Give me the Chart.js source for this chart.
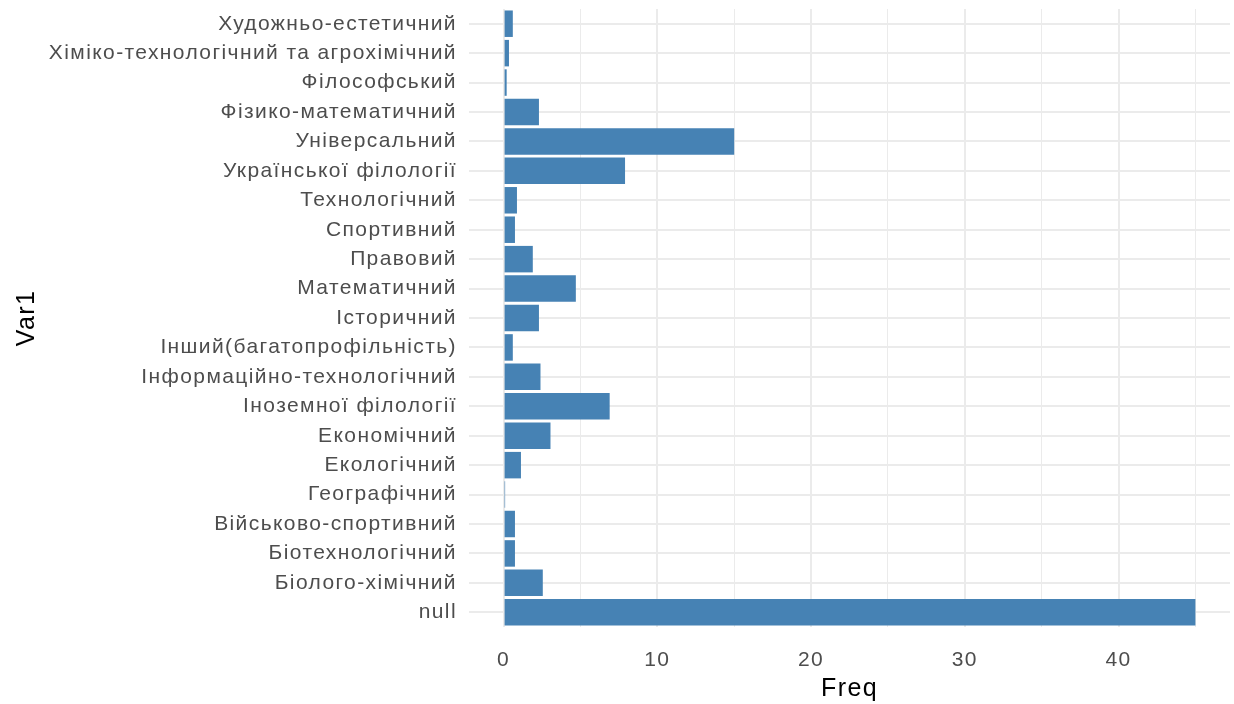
<!DOCTYPE html>
<html>
<head>
<meta charset="utf-8">
<script src="https://cdn.jsdelivr.net/npm/chart.js@4"></script>
<style>
  html, body { margin: 0; padding: 0; background: #ffffff; }
  #wrap { width: 1234px; height: 704px; position: relative; }
</style>
</head>
<body>
<div id="wrap"><canvas id="c"></canvas></div>
<script>
const categories = [
  "Художньо-естетичний",
  "Хіміко-технологічний та агрохімічний",
  "Філософський",
  "Фізико-математичний",
  "Універсальний",
  "Української філології",
  "Технологічний",
  "Спортивний",
  "Правовий",
  "Математичний",
  "Історичний",
  "Інший(багатопрофільність)",
  "Інформаційно-технологічний",
  "Іноземної філології",
  "Економічний",
  "Екологічний",
  "Географічний",
  "Військово-спортивний",
  "Біотехнологічний",
  "Біолого-хімічний",
  "null"
];
const freq = [0.6, 0.35, 0.2, 2.3, 15.0, 7.9, 0.87, 0.74, 1.9, 4.7, 2.3, 0.6, 2.4, 6.9, 3.05, 1.13, 0.1, 0.74, 0.74, 2.55, 45.0];
const xTickValues = [0, 5, 10, 15, 20, 25, 30, 35, 40, 45];
const xMajorTicks = [0, 10, 20, 30, 40];
const xTitle = "Freq";
const yTitle = "Var1";

const FONT = "'Liberation Sans', Arial, sans-serif";
const LS = '1.4px';

const spacingPlugin = {
  id: 'letterSpacing',
  beforeUpdate(chart) { chart.ctx.letterSpacing = LS; },
  beforeLayout(chart) { chart.ctx.letterSpacing = LS; },
  beforeDraw(chart) { chart.ctx.letterSpacing = LS; }
};

new Chart(document.getElementById('c'), {
  type: 'bar',
  plugins: [spacingPlugin],
  data: {
    labels: categories,
    datasets: [{
      data: freq,
      backgroundColor: '#4682B4',
      borderWidth: 0,
      categoryPercentage: 1.0,
      barPercentage: 0.9
    }]
  },
  options: {
    indexAxis: 'y',
    responsive: true,
    maintainAspectRatio: false,
    animation: false,
    layout: { padding: { top: 9, right: 4, left: 0, bottom: 0 } },
    plugins: { legend: { display: false }, tooltip: { enabled: false } },
    scales: {
      x: {
        type: 'linear',
        min: -2.25,
        max: 47.25,
        afterBuildTicks: (s) => { s.ticks = xTickValues.map(v => ({ value: v })); },
        afterFit: (s) => { s.height = 77; s.paddingLeft = 0; s.paddingRight = 0; },
        border: { display: false },
        grid: {
          color: '#ebebeb',
          lineWidth: (ctx) => (ctx.tick && xMajorTicks.includes(ctx.tick.value)) ? 2 : 1,
          drawTicks: false
        },
        ticks: {
          padding: 21,
          color: '#4d4d4d',
          font: { family: FONT, size: 21 },
          maxRotation: 0,
          callback: (v) => xMajorTicks.includes(v) ? String(v) : ''
        },
        title: {
          display: true,
          text: xTitle,
          color: '#000000',
          font: { family: FONT, size: 25 },
          padding: { top: 0, bottom: 0 }
        }
      },
      y: {
        type: 'category',
        offset: true,
        afterFit: (s) => { s.width = 469; s.paddingTop = 0; s.paddingBottom = 0; },
        border: { display: false },
        grid: {
          color: '#ebebeb',
          lineWidth: 2,
          drawTicks: false,
          offset: false
        },
        ticks: {
          padding: 12,
          color: '#4d4d4d',
          font: { family: FONT, size: 21 },
          autoSkip: false
        },
        title: {
          display: true,
          text: yTitle,
          color: '#000000',
          font: { family: FONT, size: 25 },
          padding: { top: 12, bottom: 0 }
        }
      }
    }
  }
});
</script>
</body>
</html>
